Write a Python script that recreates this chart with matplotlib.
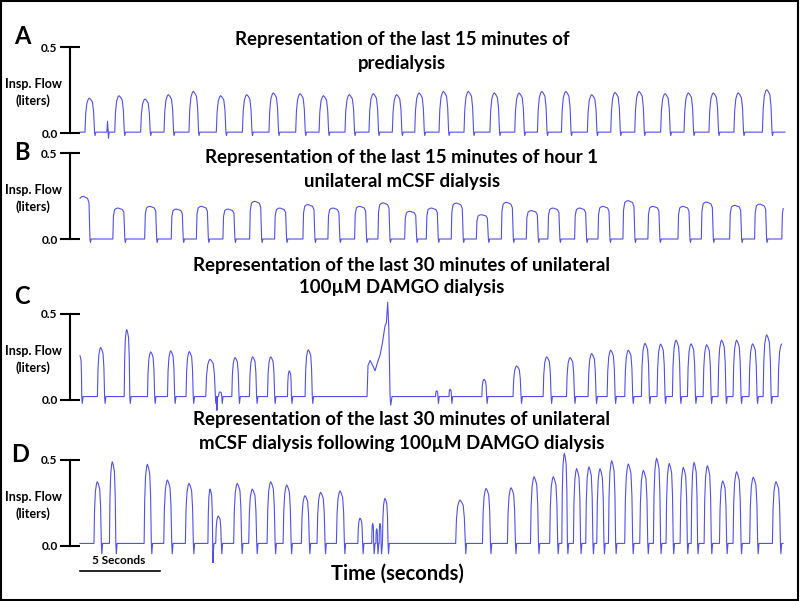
import matplotlib

matplotlib.use("Agg")
import matplotlib.pyplot as plt
import numpy as np
from matplotlib.patches import Rectangle

# ---- data (time in s, flow in liters) ----
A_TIMES = [0.58, 2.44, 4.06, 5.52, 7.08, 8.79, 10.42, 12.08, 13.75, 15.21,
           16.83, 18.33, 19.79, 21.19, 22.71, 24.27, 25.89, 27.44, 28.86,
           30.36, 31.98, 33.44, 34.94, 36.56, 38.02, 39.58, 41.14, 42.92]
A_PEAKS = [0.203, 0.217, 0.198, 0.223, 0.242, 0.217, 0.223, 0.233, 0.229,
           0.217, 0.223, 0.229, 0.223, 0.233, 0.242, 0.242, 0.233, 0.233,
           0.242, 0.242, 0.223, 0.236, 0.242, 0.229, 0.233, 0.233, 0.233,
           0.252]
A_WIDTHS = 0.6
A_EVENTS = [(1.68, 0.005), (1.72, 0.068), (1.76, 0.01), (1.78, -0.03),
            (1.82, 0.005)]

B_TIMES = [0.21, 2.39, 4.38, 6.04, 7.61, 9.27, 10.94, 12.50, 14.27, 15.83,
           17.50, 18.96, 20.63, 21.98, 23.54, 25.11, 26.67, 28.23, 29.58,
           31.25, 32.71, 34.27, 35.83, 37.71, 39.17, 40.94, 42.50, 44.20]
B_PEAKS = [0.248, 0.18, 0.19, 0.174, 0.19, 0.174, 0.219, 0.18, 0.20, 0.18,
           0.19, 0.21, 0.161, 0.18, 0.209, 0.141, 0.213, 0.165, 0.18, 0.18,
           0.19, 0.223, 0.19, 0.19, 0.215, 0.196, 0.203, 0.20]
B_WIDTHS = 0.75
B_EVENTS = []

C_TIMES = [0.0, 1.29, 2.92, 4.42, 5.67, 6.83, 8.13, 8.75, 9.69, 10.79,
           11.92, 13.08, 14.27, 22.29, 23.13, 25.25, 27.29, 29.17, 30.63,
           31.98, 33.17, 34.27, 35.31, 36.29, 37.25, 38.19, 39.17, 40.10,
           41.04, 42.04, 42.92, 43.85]
C_PEAKS = [0.257, 0.305, 0.41, 0.28, 0.286, 0.282, 0.237, 0.047, 0.247,
           0.251, 0.251, 0.169, 0.292, 0.053, 0.062, 0.12, 0.198, 0.251,
           0.247, 0.27, 0.29, 0.29, 0.33, 0.325, 0.348, 0.327, 0.321, 0.348,
           0.348, 0.327, 0.379, 0.325]
C_WIDTHS = [0.2, 0.45, 0.35, 0.45, 0.45, 0.45, 0.6, 0.2, 0.45, 0.45,
            0.45, 0.25, 0.45, 0.15, 0.15, 0.3, 0.5, 0.5, 0.5, 0.5, 0.5,
            0.5, 0.5, 0.5, 0.5, 0.5, 0.5, 0.5, 0.5, 0.5, 0.5, 0.5]
C_EVENTS = [(8.54, 0.02), (8.56, -0.06), (8.59, 0.02),
            (17.94, 0.02), (18.0, 0.2), (18.13, 0.23), (18.3, 0.2),
            (18.44, 0.17), (18.6, 0.22), (18.75, 0.26), (18.9, 0.33),
            (19.06, 0.43), (19.15, 0.45), (19.23, 0.568), (19.3, 0.42),
            (19.38, 0.02), (19.42, -0.03), (19.5, 0.02)]

D_TIMES = [1.08, 2.02, 4.21, 5.46, 6.81, 8.13, 8.64, 9.83, 10.77, 11.92,
           12.92, 14.06, 15.04, 16.25, 17.50, 18.29, 18.54, 18.75, 19.06,
           23.75, 25.38, 26.94, 28.38, 29.58, 30.27, 31.04, 31.81, 32.50,
           33.23, 34.27, 35.21, 36.04, 36.83, 37.71, 38.38, 39.21, 40.17,
           41.04, 42.08, 43.50]
D_PEAKS = [0.374, 0.49, 0.475, 0.384, 0.364, 0.331, 0.174, 0.364, 0.331,
           0.374, 0.355, 0.293, 0.312, 0.32, 0.161, 0.13, 0.10, 0.13, 0.277,
           0.267, 0.335, 0.339, 0.403, 0.403, 0.539, 0.45, 0.46, 0.45, 0.496,
           0.477, 0.44, 0.51, 0.48, 0.457, 0.486, 0.467, 0.378, 0.432, 0.40,
           0.374]
D_WIDTHS = [0.46, 0.4, 0.45, 0.5, 0.5, 0.3, 0.35, 0.5, 0.5, 0.5, 0.5,
            0.5, 0.5, 0.5, 0.3, 0.12, 0.1, 0.12, 0.35, 0.6, 0.5, 0.5, 0.5,
            0.5, 0.35, 0.45, 0.45, 0.45, 0.45, 0.5, 0.5, 0.45, 0.45, 0.45,
            0.4, 0.45, 0.45, 0.5, 0.5, 0.5]
D_EVENTS = [(8.31, -0.11)]

# ---- breath outlines (fractions of width / height) ----
PROF_ROUND = ([0.0, 0.08, 0.2, 0.35, 0.45, 0.6, 0.78, 0.9, 1.0],
              [0.0, 0.55, 0.85, 0.97, 1.0, 0.96, 0.88, 0.6, 0.0])
PROF_FLAT = ([0.0, 0.05, 0.15, 0.3, 0.45, 0.6, 0.8, 0.92, 1.0],
             [0.0, 0.75, 0.95, 0.99, 1.0, 0.98, 0.95, 0.85, 0.0])
PEAK_FRAC = 0.45

PANELS = [
    dict(letter="A", times=A_TIMES, peaks=A_PEAKS, widths=A_WIDTHS,
         events=A_EVENTS, base=0.005, dip=0.02, t_end=44.06,
         profile=PROF_ROUND,
         title=["Representation of the last 15 minutes of", "predialysis"]),
    dict(letter="B", times=B_TIMES, peaks=B_PEAKS, widths=B_WIDTHS,
         events=B_EVENTS, base=0.0, dip=0.02, t_end=43.95,
         profile=PROF_FLAT,
         title=["Representation of the last 15 minutes of hour 1",
                "unilateral mCSF dialysis"]),
    dict(letter="C", times=C_TIMES, peaks=C_PEAKS, widths=C_WIDTHS,
         events=C_EVENTS, base=0.02, dip=0.04, t_end=43.85,
         profile=PROF_ROUND,
         title=["Representation of the last 30 minutes of unilateral",
                "100\u00b5M DAMGO dialysis"]),
    dict(letter="D", times=D_TIMES, peaks=D_PEAKS, widths=D_WIDTHS,
         events=D_EVENTS, base=0.015, dip=0.06, t_end=43.94,
         profile=PROF_ROUND,
         title=["Representation of the last 30 minutes of unilateral",
                "mCSF dialysis following 100\u00b5M DAMGO dialysis"]),
]

# ---- layout (pixels in an 800x601 figure) ----
W, H = 800, 601
ZERO_PX = [133, 239, 400, 546]      # y pixel of 0.0 per panel
LETTER_PX = [(22, 36), (22, 152), (22, 297), (20, 455)]
TITLE_PX = [(40, 63), (158, 182), (265, 288), (420, 443)]
PX_PER_L = 172.0                   # pixels per liter
PX_PER_S = 16.0                    # pixels per second
YLIM = (-0.1, 0.6)
XLIM = ((70 - 80) / PX_PER_S, (790 - 80) / PX_PER_S)

TRACE_COLOR = "#5050ea"

plt.rcParams["font.family"] = ["Lato", "DejaVu Sans"]
plt.rcParams["font.weight"] = "bold"


def fig_xy(px, py):
    return px / W, 1 - py / H


def build_trace(p):
    base = p["base"]
    prof_t, prof_y = p["profile"]
    widths = np.broadcast_to(np.asarray(p["widths"], float), (len(p["times"]),))
    xs, ys = [], []
    for tc, h, w in zip(p["times"], p["peaks"], widths):
        t0 = tc - PEAK_FRAC * w
        for f, g in zip(prof_t, prof_y):
            xs.append(t0 + f * w)
            ys.append(base + g * (h - base))
        t1 = t0 + w
        xs += [t1 + 0.03, t1 + 0.08]
        ys += [base - p["dip"], base]
    for t, v in p["events"]:
        xs.append(t)
        ys.append(v)
    xs += [-1.0, 50.0]
    ys += [base, base]
    order = np.argsort(xs, kind="stable")
    xs = np.asarray(xs)[order]
    ys = np.asarray(ys)[order]
    keep = (xs > 0) & (xs < p["t_end"])
    x_out = np.concatenate([[0.0], xs[keep], [p["t_end"]]])
    y_out = np.concatenate([[np.interp(0.0, xs, ys)], ys[keep],
                            [np.interp(p["t_end"], xs, ys)]])
    return x_out, y_out


fig = plt.figure(figsize=(W / 100, H / 100), dpi=100)

for i, p in enumerate(PANELS):
    y0 = ZERO_PX[i]
    bottom_px = y0 - YLIM[0] * PX_PER_L
    top_px = y0 - YLIM[1] * PX_PER_L
    ax = fig.add_axes([70 / W, 1 - bottom_px / H, 720 / W,
                       (bottom_px - top_px) / H])
    ax.set_facecolor("none")
    ax.set_xlim(*XLIM)
    ax.set_ylim(*YLIM)

    x, y = build_trace(p)
    ax.plot(x, y, color=TRACE_COLOR, lw=0.8)

    for s in ["top", "right", "bottom"]:
        ax.spines[s].set_visible(False)
    ax.spines["left"].set_bounds(0, 0.5)
    ax.spines["left"].set_linewidth(1.5)
    ax.set_xticks([])
    ax.set_yticks([0.0, 0.5])
    ax.set_yticklabels(["0.0", "0.5"], fontsize=8.5, fontweight="bold")
    ax.tick_params(axis="y", direction="inout", length=14, width=1.5, pad=2)

    fx, fy = fig_xy(33, y0 - 49)
    fig.text(fx, fy, "Insp. Flow", ha="center", va="center", fontsize=9,
             fontweight="bold")
    fx, fy = fig_xy(33, y0 - 32)
    fig.text(fx, fy, "(liters)", ha="center", va="center", fontsize=9,
             fontweight="bold")

    lx, ly = LETTER_PX[i]
    fx, fy = fig_xy(lx, ly)
    fig.text(fx, fy, p["letter"], ha="center", va="center", fontsize=17,
             fontweight="bold")

    for line, ty in zip(p["title"], TITLE_PX[i]):
        fx, fy = fig_xy(402, ty)
        fig.text(fx, fy, line, ha="center", va="center", fontsize=13.4,
                 fontweight="bold")

    if p["letter"] == "D":
        bar_y = (y0 - 571) / PX_PER_L
        ax.plot([0, 5], [bar_y, bar_y], color="black", lw=1.2,
                clip_on=False)
        ax.text(2.4, (y0 - 560) / PX_PER_L, "5 Seconds", ha="center",
                va="center", fontsize=8.5, fontweight="bold")

fx, fy = fig_xy(397, 574)
fig.text(fx, fy, "Time (seconds)", ha="center", va="center", fontsize=14.5,
         fontweight="bold")

fig.patches.append(Rectangle((0.001, 0.002), 0.996, 0.996,
                             transform=fig.transFigure, fill=False,
                             edgecolor="black", lw=1.5))

fig.savefig("out.png", dpi=100)
